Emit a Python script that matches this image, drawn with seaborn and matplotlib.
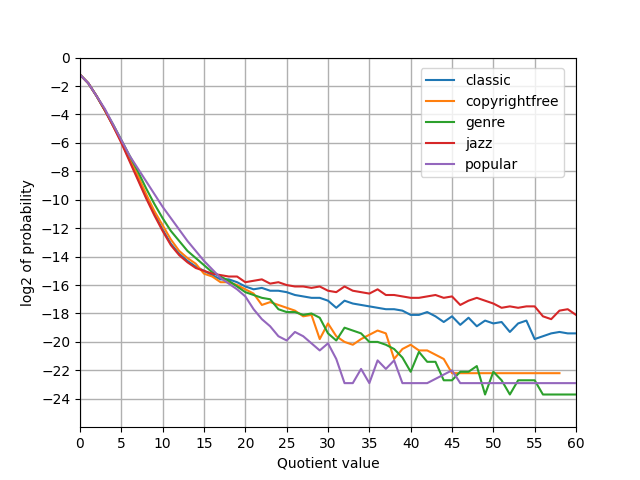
import numpy as np
import pandas as pd
import matplotlib
matplotlib.use("Agg")
import matplotlib.pyplot as plt
import seaborn as sns

classic = [-1.2,-1.8,-2.7,-3.7,-4.8,-5.9,-7.2,-8.5,-9.8,-11.0,-12.1,-13.1,-13.8,-14.3,-14.7,-15.0,-15.3,-15.6,-15.6,-15.8,-16.1,-16.3,-16.2,-16.4,-16.4,-16.5,-16.7,-16.8,-16.9,-16.9,-17.1,-17.6,-17.1,-17.3,-17.4,-17.5,-17.6,-17.7,-17.7,-17.8,-18.1,-18.1,-17.9,-18.2,-18.6,-18.2,-18.8,-18.3,-18.9,-18.5,-18.7,-18.6,-19.3,-18.7,-18.5,-19.8,-19.6,-19.4,-19.3,-19.4,-19.4]
copyrightfree = [-1.2,-1.8,-2.7,-3.7,-4.8,-5.9,-7.1,-8.3,-9.6,-10.8,-11.8,-12.8,-13.6,-14.1,-14.5,-15.2,-15.4,-15.8,-15.8,-16.0,-16.3,-16.6,-17.4,-17.2,-17.4,-17.6,-17.8,-18.2,-18.1,-19.8,-18.7,-19.6,-20.0,-20.2,-19.8,-19.5,-19.2,-19.4,-21.2,-20.5,-20.2,-20.6,-20.6,-20.9,-21.2,-22.2,-22.2,-22.2,-22.2,-22.2,-22.2,-22.2,-22.2,-22.2,-22.2,-22.2,-22.2,-22.2,-22.2]
genre = [-1.2,-1.8,-2.7,-3.7,-4.7,-5.8,-6.9,-8.0,-9.2,-10.3,-11.3,-12.2,-12.9,-13.6,-14.1,-14.6,-15.1,-15.4,-15.7,-16.1,-16.5,-16.7,-16.9,-17.0,-17.7,-17.9,-17.9,-18.1,-18.0,-18.3,-19.4,-19.9,-19.0,-19.2,-19.4,-20.0,-20.0,-20.2,-20.5,-21.1,-22.1,-20.7,-21.4,-21.4,-22.7,-22.7,-22.1,-22.1,-21.7,-23.7,-22.1,-22.7,-23.7,-22.7,-22.7,-22.7,-23.7,-23.7,-23.7,-23.7,-23.7]
jazz = [-1.2,-1.8,-2.7,-3.7,-4.8,-6.0,-7.3,-8.6,-9.9,-11.1,-12.2,-13.2,-13.9,-14.4,-14.8,-15.0,-15.2,-15.3,-15.4,-15.4,-15.8,-15.7,-15.6,-15.9,-15.8,-16.0,-16.1,-16.1,-16.2,-16.1,-16.4,-16.5,-16.1,-16.4,-16.5,-16.6,-16.3,-16.7,-16.7,-16.8,-16.9,-16.9,-16.8,-16.7,-16.9,-16.8,-17.4,-17.1,-16.9,-17.1,-17.3,-17.6,-17.5,-17.6,-17.5,-17.5,-18.2,-18.4,-17.8,-17.7,-18.1]
popular = [-1.2,-1.8,-2.7,-3.6,-4.7,-5.8,-6.9,-7.8,-8.7,-9.6,-10.5,-11.3,-12.1,-12.9,-13.6,-14.3,-14.9,-15.5,-15.9,-16.3,-16.8,-17.7,-18.4,-18.9,-19.6,-19.9,-19.3,-19.6,-20.1,-20.6,-20.1,-21.2,-22.9,-22.9,-21.9,-22.9,-21.3,-21.9,-21.3,-22.9,-22.9,-22.9,-22.9,-22.6,-22.3,-22.0,-22.9,-22.9,-22.9,-22.9,-22.9,-22.9,-22.9,-22.9,-22.9,-22.9,-22.9,-22.9,-22.9,-22.9,-22.9]

series = {"classic": classic, "copyrightfree": copyrightfree, "genre": genre, "jazz": jazz, "popular": popular}
rows = []
for name, vals in series.items():
    for i, v in enumerate(vals):
        rows.append({"x": i, "y": v, "genre": name})
df = pd.DataFrame(rows)

fig, ax = plt.subplots(figsize=(6.4, 4.8), dpi=100)
sns.lineplot(data=df, x="x", y="y", hue="genre", palette=["#1f77b4", "#ff7f0e", "#2ca02c", "#d62728", "#9467bd"], ax=ax, linewidth=1.5)
ax.set_xlim(0, 60)
ax.set_ylim(-26, 0)
ax.set_yticks(np.arange(-24, 1, 2))
ax.set_xticks(np.arange(0, 61, 5))
ax.grid(True, color="#b0b0b0", linewidth=1)
ax.set_xlabel("Quotient value")
ax.set_ylabel("log2 of probability")
ax.legend(loc="upper right", bbox_to_anchor=(0.99, 0.99), title=None)
fig.savefig("out.png")
